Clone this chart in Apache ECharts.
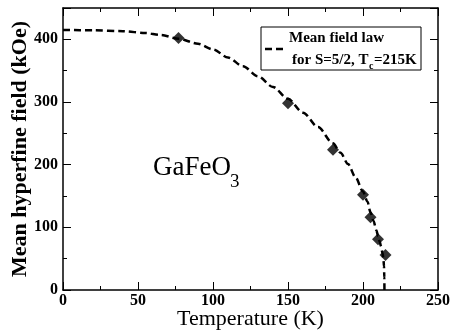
<!DOCTYPE html>
<html>
<head>
<meta charset="utf-8">
<script src="https://cdn.jsdelivr.net/npm/echarts@6/dist/echarts.min.js"></script>
<style>
  html, body { margin: 0; padding: 0; background: #fff; }
  #chart { width: 451px; height: 336px; }
</style>
</head>
<body>
<div id="chart"></div>
<script>
// measured points (temperature K, field kOe)
var dataT = [77, 150, 180, 200, 205, 210, 215];
var dataH = [402, 298, 224, 152, 116, 81, 56];

// mean field curve
var curveT = [0, 20, 40, 55, 65, 77, 90, 100, 110, 120, 130, 140, 150, 160, 170, 180, 185, 190, 195, 200, 203, 205, 207, 209, 210, 211, 212, 213, 213.6, 214, 214.2, 214.3];
var curveH = [415, 414.5, 413, 410, 407, 401, 393, 384, 371, 357, 341, 324, 305, 283, 260, 234, 219, 201, 180, 157, 141, 124, 110, 95, 86, 78, 70, 59, 50, 38, 20, 0];

var serif = 'Liberation Serif';

var points = dataT.map(function (t, i) { return [t, dataH[i]]; });
var curve = curveT.map(function (t, i) { return [t, curveH[i]]; });

var myChart = echarts.init(document.getElementById('chart'));

function axisBase(show) {
  return {
    axisLine: { show: true, onZero: false, lineStyle: { color: '#000', width: 1.5 } },
    axisTick: { show: true, inside: true, length: 8, lineStyle: { color: '#000', width: 1 } },
    minorTick: { show: true, splitNumber: 2, length: 4, lineStyle: { color: '#000', width: 1 } },
    splitLine: { show: false },
    axisLabel: { show: show, color: '#000', fontFamily: serif, fontWeight: 'bold', fontSize: 16 }
  };
}

var xBottom = axisBase(true);
xBottom.type = 'value';
xBottom.min = 0; xBottom.max = 250; xBottom.interval = 50;
xBottom.position = 'bottom';
xBottom.axisLabel.margin = 3;
xBottom.name = 'Temperature (K)';
xBottom.nameLocation = 'middle';
xBottom.nameGap = 18;
xBottom.nameMoveOverlap = false;
xBottom.nameTextStyle = { color: '#000', fontFamily: serif, fontSize: 22, verticalAlign: 'top' };

var xTop = axisBase(false);
xTop.type = 'value';
xTop.min = 0; xTop.max = 250; xTop.interval = 50;
xTop.position = 'top';

var yLeft = axisBase(true);
yLeft.type = 'value';
yLeft.min = 0; yLeft.max = 450; yLeft.interval = 100;
yLeft.position = 'left';
yLeft.axisLabel.margin = 5;
yLeft.axisLabel.showMaxLabel = false;
yLeft.name = 'Mean hyperfine field (kOe)';
yLeft.nameLocation = 'middle';
yLeft.nameGap = 32;
yLeft.nameMoveOverlap = false;
yLeft.nameTextStyle = { color: '#000', fontFamily: serif, fontWeight: 'bold', fontSize: 22 };

var yRight = axisBase(false);
yRight.type = 'value';
yRight.min = 0; yRight.max = 450; yRight.interval = 100;
yRight.position = 'right';

var option = {
  animation: false,
  backgroundColor: '#fff',
  grid: { left: 63, right: 13, top: 8, bottom: 46, containLabel: false, outerBoundsMode: 'none' },
  xAxis: [xBottom, xTop],
  yAxis: [yLeft, yRight],
  series: [{
    name: 'Mean field law',
    type: 'line',
    data: curve,
    showSymbol: false,
    smooth: 0.3,
    smoothMonotone: 'x',
    lineStyle: { color: '#000', width: 2.5, type: [7, 4] },
    z: 2
  }, {
    name: 'data',
    type: 'scatter',
    data: points,
    symbol: 'diamond',
    symbolSize: 12,
    itemStyle: { color: '#000' },
    z: 3
  }],
  graphic: [{
    type: 'rect',
    shape: { x: 261, y: 27, width: 160, height: 43 },
    style: { fill: '#fff', stroke: '#000', lineWidth: 1 }
  }, {
    type: 'line',
    shape: { x1: 265, y1: 49, x2: 284, y2: 49 },
    style: { stroke: '#000', lineWidth: 2.5, lineDash: [7, 4] }
  }, {
    type: 'text',
    x: 289, y: 38,
    style: {
      text: 'Mean field law',
      fontFamily: serif, fontWeight: 'bold', fontSize: 15, fill: '#000',
      verticalAlign: 'middle'
    }
  }, {
    type: 'text',
    x: 292, y: 60,
    style: {
      text: 'for S=5/2, T',
      fontFamily: serif, fontWeight: 'bold', fontSize: 15, fill: '#000',
      verticalAlign: 'middle'
    }
  }, {
    type: 'text',
    x: 369, y: 66,
    style: {
      text: 'c',
      fontFamily: serif, fontWeight: 'bold', fontSize: 10, fill: '#000',
      verticalAlign: 'middle'
    }
  }, {
    type: 'text',
    x: 374, y: 60,
    style: {
      text: '=215K',
      fontFamily: serif, fontWeight: 'bold', fontSize: 15, fill: '#000',
      verticalAlign: 'middle'
    }
  }, {
    type: 'text',
    x: 153, y: 168,
    style: {
      text: 'GaFeO',
      fontFamily: serif, fontSize: 27, fill: '#000',
      verticalAlign: 'middle'
    }
  }, {
    type: 'text',
    x: 230, y: 182,
    style: {
      text: '3',
      fontFamily: serif, fontSize: 19, fill: '#000',
      verticalAlign: 'middle'
    }
  }]
};

myChart.setOption(option);
</script>
</body>
</html>
